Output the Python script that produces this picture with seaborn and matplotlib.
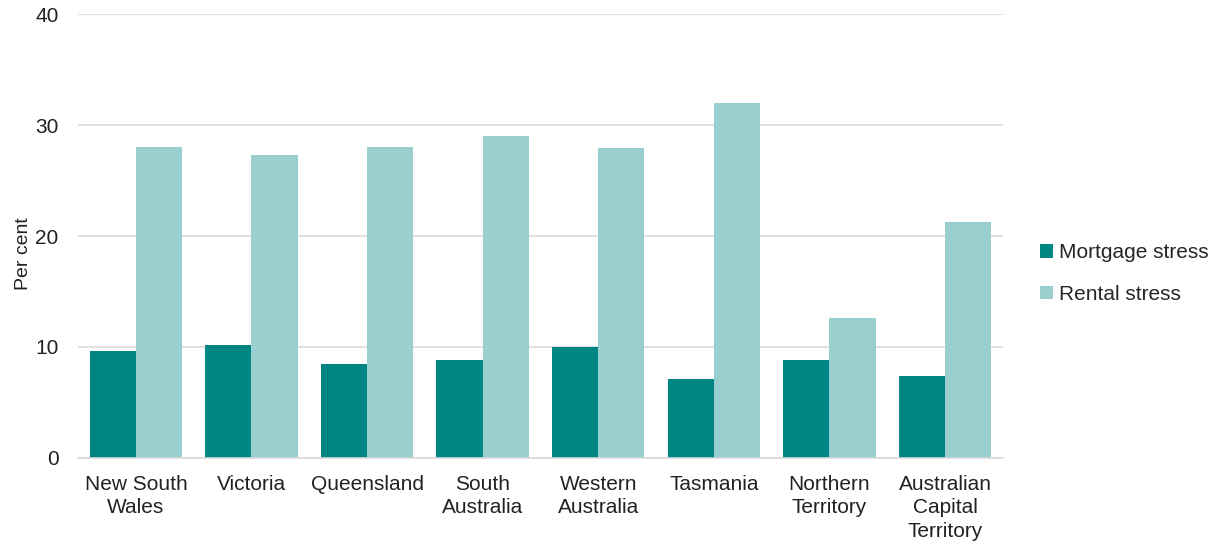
import pandas as pd
import seaborn as sns
import matplotlib.pyplot as plt

states = ["New South\nWales", "Victoria", "Queensland", "South\nAustralia",
          "Western\nAustralia", "Tasmania", "Northern\nTerritory",
          "Australian\nCapital\nTerritory"]
mortgage = [9.6, 10.2, 8.5, 8.8, 10.0, 7.1, 8.8, 7.4]
rental = [28.0, 27.3, 28.0, 29.0, 27.9, 32.0, 12.6, 21.3]
series = ["Mortgage stress", "Rental stress"]

df = pd.DataFrame({"state": states * 2,
                   "value": mortgage + rental,
                   "series": [series[0]] * len(states) + [series[1]] * len(states)})

sns.set_style("white")
plt.rcParams['font.family'] = ['Liberation Sans', 'DejaVu Sans']

fig = plt.figure(figsize=(12.2, 5.47), dpi=100)
ax = fig.add_axes([0.064, 0.163, 0.758, 0.811])
sns.barplot(data=df, x="state", y="value", hue="series",
            palette=["#008585", "#99cfcf"], width=0.8, gap=0,
            saturation=1, linewidth=0, ax=ax)

ax.set_ylim(0, 40)
ax.set_yticks([0, 10, 20, 30, 40])
ax.yaxis.grid(True, color="#d9d9d9", linewidth=1.2)
ax.set_axisbelow(True)
for s in ["top", "right", "left"]:
    ax.spines[s].set_visible(False)
ax.spines["bottom"].set_color("#d9d9d9")
ax.spines["bottom"].set_linewidth(1.2)
ax.tick_params(axis="both", length=0, labelsize=15, colors="#222222")
ax.tick_params(axis="x", pad=12)
ax.tick_params(axis="y", pad=14)
for lab in ax.get_xticklabels():
    lab.set_linespacing(1.3)
ax.set_xlabel("")
ax.set_ylabel("Per cent", fontsize=14, color="#222222", labelpad=5)
ax.yaxis.set_label_coords(-0.05, 0.46)

leg = ax.legend(loc="center left", bbox_to_anchor=(1.02, 0.415), frameon=False,
                fontsize=15, handlelength=0.6, handleheight=0.6,
                handletextpad=0.3, labelspacing=1.1)

fig.savefig("out.png", dpi=100)
